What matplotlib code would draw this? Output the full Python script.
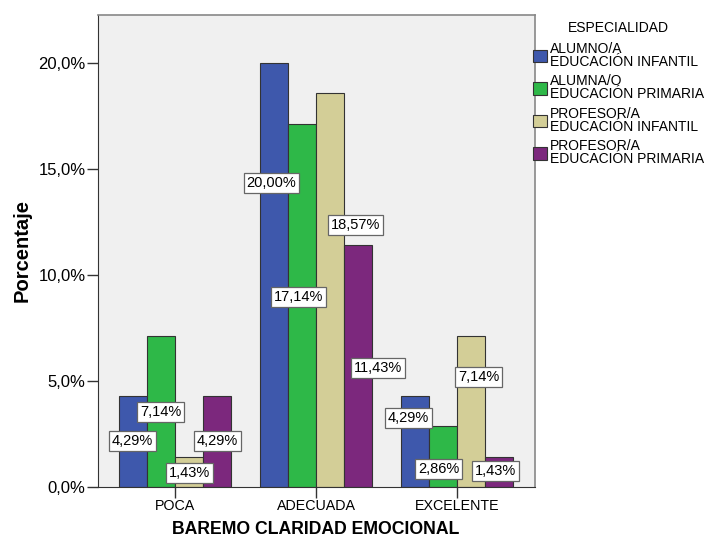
import numpy as np
import matplotlib.pyplot as plt

plt.rcParams['font.family'] = ['Liberation Sans', 'DejaVu Sans']

categorias = ['POCA', 'ADECUADA', 'EXCELENTE']
especialidades = ['ALUMNO/A\nEDUCACIÓN INFANTIL', 'ALUMNA/O\nEDUCACIÓN PRIMARIA',
                  'PROFESOR/A\nEDUCACIÓN INFANTIL', 'PROFESOR/A\nEDUCACIÓN PRIMARIA']
alumno_infantil = [4.29, 20.00, 4.29]
alumna_primaria = [7.14, 17.14, 2.86]
profesor_infantil = [1.43, 18.57, 7.14]
profesor_primaria = [4.29, 11.43, 1.43]
colores = ['#3E58AC', '#2EB848', '#D3CE97', '#7C287D']

# where each value box sits (y in %, x shift in category units)
label_y = [[2.15, 14.34, 3.25], [3.54, 8.96, 0.85], [0.66, 12.36, 5.2], [2.15, 5.6, 0.75]]
label_dx = [[0, -0.015, -0.045], [0, -0.025, -0.03], [0, 0.18, 0.055], [0, 0.14, -0.025]]

series = [alumno_infantil, alumna_primaria, profesor_infantil, profesor_primaria]

fig = plt.figure(figsize=(7.05, 5.38), dpi=100)
ax = fig.add_axes([98/705, 1 - 487/538, (535-98)/705, (487-15)/538])
ax.set_facecolor('#F0F0F0')

x = np.arange(len(categorias))
w = 0.2
for i, vals in enumerate(series):
    pos = x + (i - 1.5) * w
    ax.bar(pos, vals, w, color=colores[i], edgecolor='#333333', linewidth=0.8,
           label=especialidades[i])
    for j, v in enumerate(vals):
        txt = f'{v:.2f}%'.replace('.', ',')
        ax.text(pos[j] + label_dx[i][j], label_y[i][j], txt, ha='center', va='center',
                fontsize=10.5, color='black',
                bbox=dict(boxstyle='square,pad=0.2', fc='white', ec='#666666', lw=0.9))

ax.set_xlim(-0.546, 2.553)
ax.set_ylim(0, 22.26)
ax.set_xticks(x)
ax.set_xticklabels(categorias, fontsize=10.3)
ax.set_yticks([0, 5, 10, 15, 20])
ax.set_yticklabels(['0,0%', '5,0%', '10,0%', '15,0%', '20,0%'], fontsize=12)
ax.tick_params(axis='y', length=8, width=1, color='#333333', pad=1)
ax.tick_params(axis='x', length=8, width=1, color='#333333', pad=1)

for s in ['left', 'bottom']:
    ax.spines[s].set_color('#333333')
for s in ['top', 'right']:
    ax.spines[s].set_color('#888888')
    ax.spines[s].set_linewidth(1.2)

fig.text(316/705, 1 - 530/538, 'BAREMO CLARIDAD EMOCIONAL', ha='center', va='center',
         fontsize=12.7, fontweight='bold')
fig.text(22/705, 1 - 251/538, 'Porcentaje', ha='center', va='center', rotation=90,
         fontsize=14.5, fontweight='bold')

leg = fig.legend(loc='upper left', bbox_to_anchor=(533/705, 1 - 42/538), frameon=False,
                 fontsize=10, handlelength=1.0, handleheight=1.0, handletextpad=0.2,
                 labelspacing=0.4, borderaxespad=0, borderpad=0)
for t in leg.get_texts():
    t.set_linespacing(0.9)
fig.text(618/705, 1 - 28/538, 'ESPECIALIDAD', ha='center', va='center', fontsize=10)

fig.savefig('out.png', dpi=100)
